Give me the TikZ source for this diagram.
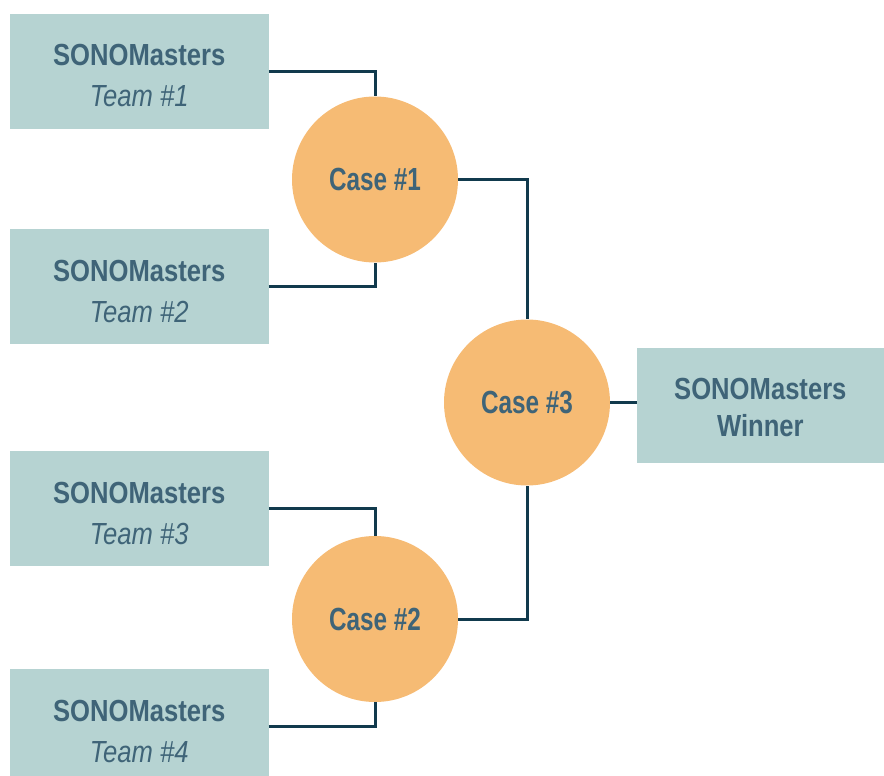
\documentclass[tikz,border=0pt]{standalone}
\usepackage{fontspec}
\newfontfamily\bracketfont{Liberation Sans}[FakeStretch=0.84]
\newfontfamily\casefont{Liberation Sans}[FakeStretch=0.76]
\definecolor{boxteal}{HTML}{B6D3D2}
\definecolor{caseorange}{HTML}{F6BB74}
\definecolor{textslate}{HTML}{3F6478}
\definecolor{linenavy}{HTML}{113A4D}

\begin{document}
\begin{tikzpicture}[x=1pt,y=-1pt]
    %
    % `team' is used for the boxes, `names' for their texts.
    % `case' is used for the circles, `link' for the bracket lines.
    \tikzstyle{team} = [fill=boxteal,minimum width=258.7pt,minimum height=115pt,inner sep=0pt]
    \tikzstyle{names} = [text=textslate,align=center,inner sep=0pt,font=\bracketfont\fontsize{30.5}{41}\selectfont]
    \tikzstyle{case} = [fill=caseorange,shape=circle,minimum size=166pt,inner sep=0pt,text=textslate,font=\casefont\bfseries\fontsize{32}{38}\selectfont]
    \tikzstyle{link} = [draw=linenavy,line width=3pt]
    \useasboundingbox (0,0) rectangle (884,776);
    %
    % Teams
    \node[team] (team1) at (139.3,71.5) {};
    \node[team] (team2) at (139.3,286.5) {};
    \node[team] (team3) at (139.3,508.5) {};
    \node[team] (team4) at (139.3,726.8) {};
    \node[names] (name1) at ([yshift=-4.5pt]team1.center) {\textbf{SONOMasters}\\\textit{Team \#1}};
    \node[names] (name2) at ([yshift=-4.5pt]team2.center) {\textbf{SONOMasters}\\\textit{Team \#2}};
    \node[names] (name3) at ([yshift=-4.5pt]team3.center) {\textbf{SONOMasters}\\\textit{Team \#3}};
    \node[names] (name4) at ([yshift=-4.5pt]team4.center) {\textbf{SONOMasters}\\\textit{Team \#4}};
    %
    % Cases
    \node[case] (case1) at (375,179.5) {Case \#1};
    \node[case] (case2) at (375,619) {Case \#2};
    \node[case] (case3) at (527,402.5) {Case \#3};
    %
    % Winner
    \node[team,minimum width=247.3pt] (winner) at (760.35,405.8) {};
    \node[names,font=\bracketfont\bfseries\fontsize{30.5}{37}\selectfont] (namew) at ([yshift=-1.5pt]winner.center) {SONOMasters\\Winner};
    %
    % Bracket lines
    \draw[link] (team1.east) -| (case1.north);
    \draw[link] (team2.east) -| (case1.south);
    \draw[link] (team3.east) -| (case2.north);
    \draw[link] (team4.east) -| (case2.south);
    \draw[link] (case1.east) -| (case3.north);
    \draw[link] (case2.east) -| (case3.south);
    \draw[link] (case3.east) -- (case3.east -| winner.west);
    %
\end{tikzpicture}
\end{document}
